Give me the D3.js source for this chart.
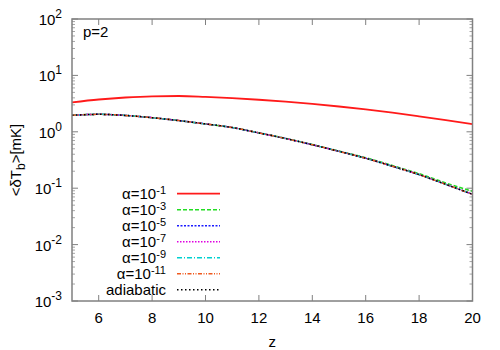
<!DOCTYPE html>
<html>
<head>
<meta charset="utf-8">
<script src="https://cdn.jsdelivr.net/npm/d3@7"></script>
<style>
  body { margin: 0; background: #fff; }
  text { font-family: "Liberation Sans", Arial, sans-serif; fill: #000; }
</style>
</head>
<body>
<div id="chart"></div>
<script>
// values
var zValues = [5, 6, 7, 8, 9, 10, 11, 12, 13, 14, 15, 16, 17, 18, 19, 20];
var alpha1 = [3.33, 3.74, 4.06, 4.26, 4.31, 4.15, 3.94, 3.70, 3.42, 3.12, 2.81, 2.49, 2.18, 1.88, 1.61, 1.37];
var alpha3 = [1.96, 2.04, 1.95, 1.78, 1.58, 1.38, 1.19, 0.96, 0.765, 0.595, 0.455, 0.348, 0.252, 0.181, 0.124, 0.088];
var alpha5 = [1.96, 2.04, 1.95, 1.78, 1.58, 1.38, 1.19, 0.955, 0.76, 0.59, 0.45, 0.34, 0.245, 0.174, 0.117, 0.078];
var alpha7 = [1.96, 2.04, 1.95, 1.78, 1.58, 1.38, 1.19, 0.955, 0.76, 0.59, 0.45, 0.34, 0.245, 0.174, 0.117, 0.078];
var alpha9 = [1.96, 2.04, 1.95, 1.78, 1.58, 1.38, 1.19, 0.955, 0.76, 0.59, 0.45, 0.34, 0.245, 0.174, 0.117, 0.078];
var alpha11 = [1.96, 2.04, 1.95, 1.78, 1.58, 1.38, 1.19, 0.955, 0.76, 0.59, 0.45, 0.34, 0.245, 0.174, 0.117, 0.078];
var adiabatic = [1.96, 2.04, 1.95, 1.78, 1.58, 1.38, 1.19, 0.955, 0.76, 0.59, 0.45, 0.34, 0.245, 0.174, 0.117, 0.078];

var xTicks = [6, 8, 10, 12, 14, 16, 18, 20];
var yTicks = [100, 10, 1, 0.1, 0.01, 0.001];
var yTickExps = ["2", "1", "0", "-1", "-2", "-3"];
var legendExps = ["-1", "-3", "-5", "-7", "-9", "-11"];

var series = [
  { values: alpha1, color: "#ff1a1a", dash: null, width: 1.8 },
  { values: alpha3, color: "#22dd22", dash: "4,2", width: 1.5 },
  { values: alpha5, color: "#1a1aff", dash: "2,1.5", width: 1.5 },
  { values: alpha7, color: "#e000e0", dash: "1.5,1.5", width: 1.5 },
  { values: alpha9, color: "#00d0d0", dash: "5,2,1,2", width: 1.5 },
  { values: alpha11, color: "#f05a1e", dash: "4,1.5,1,1.5,1,1.5", width: 1.5 },
  { values: adiabatic, color: "#000000", dash: "1.5,2.5", width: 1.5 }
];

var svgWidth = 500;
var svgHeight = 350;

var margin = {
  top: 19,
  right: 27.5,
  bottom: 49,
  left: 72
};

var width = svgWidth - margin.left - margin.right;
var height = svgHeight - margin.top - margin.bottom;

var svg = d3.select("#chart")
  .append("svg")
  .attr("width", svgWidth)
  .attr("height", svgHeight);

var chartGroup = svg.append("g")
  .attr("transform", `translate(${margin.left}, ${margin.top})`);

var xScale = d3.scaleLinear().domain([5, 20]).range([0, width]);
var yScale = d3.scaleLog().domain([0.001, 100]).range([height, 0]);

// minor log ticks (2..9 in each decade)
var minorTicks = [];
for (var e = -3; e < 2; e++) {
  for (var m = 2; m <= 9; m++) minorTicks.push(m * Math.pow(10, e));
}

var axisColor = "#808080";

// ticks on both sides / top and bottom
minorTicks.forEach(function(v) {
  [[0, 3], [width, width - 3]].forEach(function(p) {
    chartGroup.append("line")
      .attr("x1", p[0]).attr("x2", p[1])
      .attr("y1", yScale(v)).attr("y2", yScale(v))
      .attr("stroke", axisColor).attr("stroke-width", 1).attr("stroke-opacity", 0.7);
  });
});
yTicks.forEach(function(v) {
  [[0, 6], [width, width - 6]].forEach(function(p) {
    chartGroup.append("line")
      .attr("x1", p[0]).attr("x2", p[1])
      .attr("y1", yScale(v)).attr("y2", yScale(v))
      .attr("stroke", axisColor).attr("stroke-width", 1);
  });
});
xTicks.forEach(function(v) {
  [[height, height - 6], [0, 6]].forEach(function(p) {
    chartGroup.append("line")
      .attr("x1", xScale(v)).attr("x2", xScale(v))
      .attr("y1", p[0]).attr("y2", p[1])
      .attr("stroke", axisColor).attr("stroke-width", 1);
  });
});

// tick labels
xTicks.forEach(function(v) {
  chartGroup.append("text")
    .attr("x", xScale(v))
    .attr("y", height + 22)
    .attr("text-anchor", "middle")
    .style("font-size", "15px")
    .text(v);
});
yTicks.forEach(function(v, i) {
  var t = chartGroup.append("text")
    .attr("x", -10)
    .attr("y", yScale(v) + 6)
    .attr("text-anchor", "end")
    .style("font-size", "15px");
  t.append("tspan").text("10");
  t.append("tspan").attr("dy", -7).style("font-size", "12px").text(yTickExps[i]);
});

// curves
var line = d3.line()
  .x((d, i) => xScale(zValues[i]))
  .y(d => yScale(d))
  .curve(d3.curveMonotoneX);

series.forEach(function(s) {
  chartGroup.append("path")
    .datum(s.values)
    .attr("d", line)
    .attr("fill", "none")
    .attr("stroke", s.color)
    .attr("stroke-width", s.width)
    .attr("stroke-dasharray", s.dash);
});

// frame
chartGroup.append("rect")
  .attr("x", 0).attr("y", 0)
  .attr("width", width).attr("height", height)
  .attr("fill", "none")
  .attr("stroke", axisColor)
  .attr("stroke-width", 1.5);

// legend
var legendRight = 166 - margin.left;
series.forEach(function(s, i) {
  var y = 193.7 - margin.top + i * 16;
  var t = chartGroup.append("text")
    .attr("x", legendRight)
    .attr("y", y + 5)
    .attr("text-anchor", "end")
    .style("font-size", "15px");
  if (i < legendExps.length) {
    t.append("tspan").text("\u03b1=10");
    t.append("tspan").attr("dy", -5).style("font-size", "11px").text(legendExps[i]);
  } else {
    t.text("adiabatic");
  }
  chartGroup.append("line")
    .attr("x1", 177 - margin.left).attr("x2", 220 - margin.left)
    .attr("y1", y).attr("y2", y)
    .attr("stroke", s.color)
    .attr("stroke-width", s.width)
    .attr("stroke-dasharray", s.dash);
});

// p=2 label
chartGroup.append("text")
  .attr("x", 83 - margin.left)
  .attr("y", 37 - margin.top)
  .style("font-size", "15px")
  .text("p=2");

// axis titles
svg.append("text")
  .attr("x", margin.left + width / 2)
  .attr("y", 347)
  .attr("text-anchor", "middle")
  .style("font-size", "15px")
  .text("z");

var yLabel = svg.append("text")
  .attr("transform", `translate(21, ${margin.top + height / 2}) rotate(-90)`)
  .attr("text-anchor", "middle")
  .style("font-size", "15px");
yLabel.append("tspan").text("<\u03b4T");
yLabel.append("tspan").attr("dy", 4).style("font-size", "12px").text("b");
yLabel.append("tspan").attr("dy", -4).text(">[mK]");
</script>
</body>
</html>
